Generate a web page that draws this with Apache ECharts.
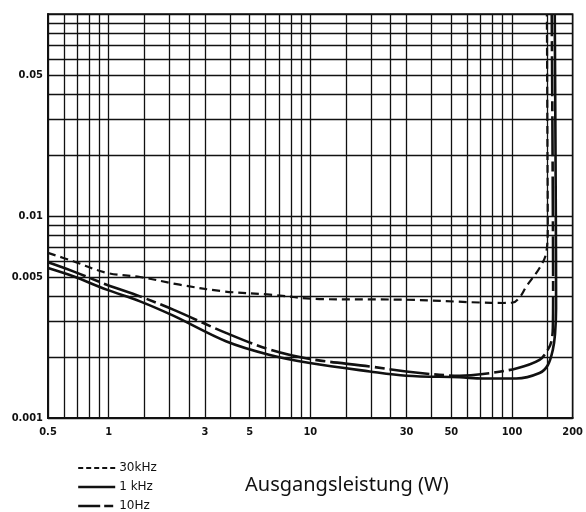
<!DOCTYPE html>
<html>
<head>
<meta charset="utf-8">
<script src="https://cdn.jsdelivr.net/npm/echarts@6/dist/echarts.min.js"></script>
<style>
  html, body { margin: 0; padding: 0; background: #fff; }
  #chart { width: 586px; height: 512px; }
</style>
</head>
<body>
<div id="chart"></div>
<script>
// Ausgangsleistung (W) vs. Klirrfaktor
const power30k = [0.5, 0.667, 0.977, 1.43, 2.25, 3.68, 6.3, 11.1, 29.9, 69, 90, 101, 110, 117.8, 137, 148, 150.5, 150, 149];
const thd30k   = [0.00657, 0.00597, 0.00523, 0.00499, 0.00457, 0.00424, 0.00408, 0.00388, 0.00385, 0.00373, 0.00371, 0.00373, 0.0040, 0.00448, 0.00553, 0.0066, 0.009, 0.02, 0.1];

const power1k = [0.5, 0.667, 0.977, 1.43, 2.09, 3.84, 6.3, 9.94, 19.7, 29.9, 55, 71.8, 105, 137, 150.7, 159.5, 163.5, 165.5, 165, 163];
const thd1k   = [0.00553, 0.00503, 0.00432, 0.00378, 0.00321, 0.00239, 0.00205, 0.00187, 0.0017, 0.00162, 0.00159, 0.00157, 0.00157, 0.00167, 0.00183, 0.00218, 0.0026, 0.0035, 0.01, 0.1];

const power10 = [0.5, 0.667, 0.977, 1.43, 2.09, 3.84, 6.3, 9.94, 19.7, 29.9, 55, 71.8, 105, 137, 150.7, 157, 159.5, 160, 159, 157.5];
const thd10   = [0.0059, 0.00532, 0.00457, 0.0040, 0.00344, 0.00263, 0.00218, 0.00196, 0.0018, 0.0017, 0.00162, 0.00165, 0.00176, 0.00194, 0.00218, 0.0024, 0.0028, 0.004, 0.02, 0.1];

const seriesNames = ["30kHz", "1 kHz", "10Hz"];

const xTickLabels = [0.5, 1, 3, 5, 10, 30, 50, 100, 200];
const yTickLabels = [0.001, 0.005, 0.01, 0.05];

const xGridLines = [0.5, 0.6, 0.7, 0.8, 0.9, 1, 1.5, 2, 2.5, 3, 4, 5, 6, 7, 8, 9, 10, 15, 20, 25, 30, 40, 50, 60, 70, 80, 90, 100, 150, 200];
const yGridLines = [0.001, 0.002, 0.003, 0.004, 0.005, 0.006, 0.007, 0.008, 0.009, 0.01, 0.02, 0.03, 0.04, 0.05, 0.06, 0.07, 0.08, 0.09, 0.1];

function paare(xs, ys) {
  return xs.map((x, i) => [x, ys[i]]);
}

var dom = document.getElementById("chart");
var myChart = echarts.init(dom, null, { renderer: "canvas" });

const labelFont = "'DejaVu Sans Condensed', 'Liberation Sans Narrow', sans-serif";

var option = {
  backgroundColor: "#fff",
  animation: false,
  title: {
    text: "Ausgangsleistung (W)",
    left: 245,
    top: 475,
    padding: 0,
    textStyle: { fontFamily: "'Noto Sans', 'Open Sans', sans-serif", fontSize: 20, fontWeight: "normal", color: "#111" },
  },
  legend: {
    orient: "vertical",
    left: 77,
    top: 462,
    height: 80,
    padding: 0,
    itemWidth: 37,
    itemHeight: 12,
    itemGap: 7,
    selectedMode: false,
    itemStyle: { opacity: 0 },
    textStyle: { fontFamily: "'DejaVu Sans', sans-serif", fontSize: 12, color: "#111", padding: [0, 0, 0, -1] },
    data: [
      { name: seriesNames[0], lineStyle: { type: [5, 3], width: 2 } },
      { name: seriesNames[1], lineStyle: { width: 2.4 } },
      { name: seriesNames[2], lineStyle: { type: [22, 4, 9, 40], width: 2.4 } },
    ],
  },
  grid: { left: 48, right: 13, top: 14, bottom: 94, show: true, borderColor: "#111", borderWidth: 1.5 },
  xAxis: {
    type: "log",
    min: 0.5,
    max: 200,
    axisLine: { show: true, lineStyle: { color: "#111", width: 2 } },
    axisTick: { show: false, customValues: xGridLines },
    axisLabel: {
      customValues: xTickLabels,
      formatter: (v) => String(v),
      margin: 9,
      fontFamily: labelFont,
      fontWeight: "bold",
      fontSize: 11,
      color: "#111",
    },
    splitLine: { show: true, lineStyle: { color: "#111", width: 1.3 } },
  },
  yAxis: {
    type: "log",
    min: 0.001,
    max: 0.1,
    axisLine: { show: true, lineStyle: { color: "#111", width: 2 } },
    axisTick: { show: false, customValues: yGridLines },
    axisLabel: {
      customValues: yTickLabels,
      formatter: (v) => String(v),
      margin: 5,
      fontFamily: labelFont,
      fontWeight: "bold",
      fontSize: 11,
      color: "#111",
    },
    splitLine: { show: true, lineStyle: { color: "#111", width: 1.3 } },
  },
  series: [
    {
      name: seriesNames[0],
      type: "line",
      data: paare(power30k, thd30k),
      symbol: "none",
      smooth: 0.35,
      clip: true,
      lineStyle: { color: "#111", width: 2.2, type: [8, 5] },
      itemStyle: { color: "#111" },
    },
    {
      name: seriesNames[1],
      type: "line",
      data: paare(power1k, thd1k),
      symbol: "none",
      smooth: 0.35,
      clip: true,
      lineStyle: { color: "#111", width: 2.6, type: "solid" },
      itemStyle: { color: "#111" },
    },
    {
      name: seriesNames[2],
      type: "line",
      data: paare(power10, thd10),
      symbol: "none",
      smooth: 0.35,
      clip: true,
      lineStyle: { color: "#111", width: 2.6, type: [40, 5, 10, 5] },
      itemStyle: { color: "#111" },
    },
  ],
};

if (option && typeof option === "object") {
  myChart.setOption(option);
}
</script>
</body>
</html>
